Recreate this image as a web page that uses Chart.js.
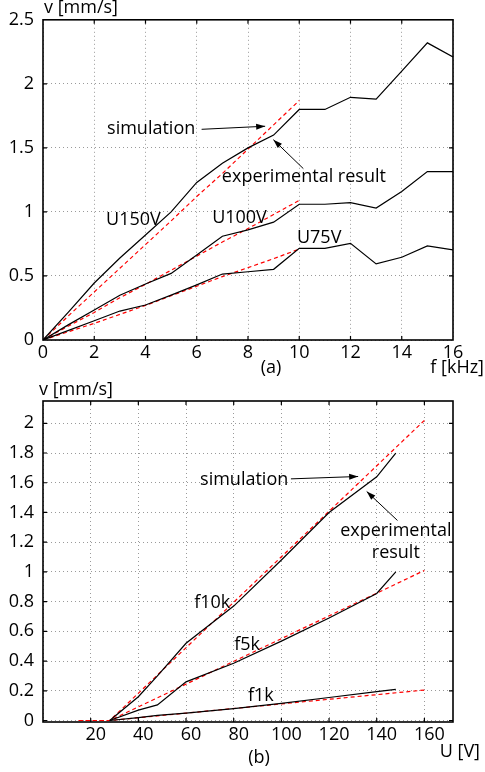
<!DOCTYPE html>
<html><head><meta charset="utf-8">
<script src="https://cdn.jsdelivr.net/npm/chart.js@4"></script>
<style>
html,body{margin:0;padding:0;background:#fff;}
#wrap{position:relative;width:485px;height:772px;}
#c1{position:absolute;left:0;top:0;}
#c2{position:absolute;left:0;top:378px;}
</style></head>
<body><div id="wrap"><canvas id="c1" width="485" height="378"></canvas><canvas id="c2" width="485" height="394"></canvas></div>
<script>
// ---- chart (a): velocity vs frequency ----
const freqExp = [0,1,2,3,4,5,6,7,8,9,10,11,12,13,14,15,16];
const expU150 = [0,0.22,0.445,0.64,0.82,1.0,1.23,1.38,1.50,1.60,1.80,1.80,1.895,1.88,2.10,2.32,2.21];
const expU100 = [0,0.12,0.234,0.35,0.4375,0.52,0.664,0.81,0.86,0.92,1.06,1.06,1.073,1.03,1.16,1.315,1.315];
const expU75  = [0,0.075,0.15,0.226,0.273,0.35,0.43,0.515,0.533,0.552,0.716,0.716,0.755,0.594,0.646,0.734,0.703];
const freqSim = [0,1,2,3,4,5,6,7,8,9,10];
const simU150 = [0,0.19,0.375,0.56,0.745,0.93,1.12,1.30,1.49,1.68,1.87];
const simU100 = [0,0.11,0.215,0.33,0.435,0.545,0.655,0.765,0.87,0.98,1.09];
const simU75  = [0,0.065,0.13,0.2,0.27,0.345,0.42,0.495,0.565,0.635,0.71];

// ---- chart (b): velocity vs voltage ----
const voltExp = [28,40,48,60,80,100,120,140,148];
const expF10k = [0,0.16,0.30,0.52,0.77,1.08,1.40,1.64,1.80];
const expF5k  = [0,0.07,0.105,0.26,0.385,0.534,0.69,0.855,1.0];
const expF1k  = [0,0.02,0.035,0.05,0.08,0.115,0.155,0.195,0.21];
const voltSim = [15,28,160];
const simF10k = [0,0,2.02];
const simF5k  = [0,0,1.01];
const simF1k  = [0,0,0.205];

const FONT = '"Open Sans", "DejaVu Sans", sans-serif';
const FS = 18;

function pts(xs, ys){ return xs.map((x,i)=>({x:x,y:ys[i]})); }
function expDs(xs, ys){ return {data:pts(xs,ys), borderColor:'#000', borderWidth:1.2, pointRadius:0, fill:false, tension:0}; }
function simDs(xs, ys){ return {data:pts(xs,ys), borderColor:'#ff0000', borderWidth:1.2, borderDash:[4,3], pointRadius:0, fill:false, tension:0}; }

function arrow(ctx, x1,y1,x2,y2){
  ctx.save();
  ctx.strokeStyle='#000'; ctx.fillStyle='#000'; ctx.lineWidth=1;
  ctx.beginPath(); ctx.moveTo(x1,y1); ctx.lineTo(x2,y2); ctx.stroke();
  const a=Math.atan2(y2-y1,x2-x1), L=9, W=3;
  ctx.beginPath();
  ctx.moveTo(x2,y2);
  ctx.lineTo(x2-L*Math.cos(a)+W*Math.sin(a), y2-L*Math.sin(a)-W*Math.cos(a));
  ctx.lineTo(x2-L*Math.cos(a)-W*Math.sin(a), y2-L*Math.sin(a)+W*Math.cos(a));
  ctx.closePath(); ctx.fill();
  ctx.restore();
}

function makePlugin(cfg){
  return {
    id:'decor',
    afterDraw(chart){
      const ctx=chart.ctx, a=chart.chartArea, xs=chart.scales.x, ys=chart.scales.y;
      ctx.save();
      ctx.strokeStyle='#000'; ctx.lineWidth=1.6;
      ctx.strokeRect(a.left,a.top,a.right-a.left,a.bottom-a.top);
      ctx.lineWidth=1.2;
      ctx.beginPath();
      xs.ticks.forEach(t=>{const p=xs.getPixelForValue(t.value); if(p<a.left+1||p>a.right-1) return;
        ctx.moveTo(p,a.bottom); ctx.lineTo(p,a.bottom-4); ctx.moveTo(p,a.top); ctx.lineTo(p,a.top+4);});
      ys.ticks.forEach(t=>{const p=ys.getPixelForValue(t.value); if(p<a.top+1||p>a.bottom-1) return;
        ctx.moveTo(a.left,p); ctx.lineTo(a.left+4,p); ctx.moveTo(a.right,p); ctx.lineTo(a.right-4,p);});
      ctx.stroke();
      ctx.fillStyle='#000';
      ctx.font = FS+'px '+FONT;
      ctx.textBaseline='middle';
      cfg.texts.forEach(t=>{
        ctx.textAlign=t.align||'left';
        const x = t.px ? t.x : xs.getPixelForValue(t.x);
        const y = t.px ? t.y : ys.getPixelForValue(t.y);
        ctx.fillText(t.s,x,y);
      });
      cfg.arrows.forEach(r=>{
        arrow(ctx, xs.getPixelForValue(r[0]), ys.getPixelForValue(r[1]), xs.getPixelForValue(r[2]), ys.getPixelForValue(r[3]));
      });
      ctx.restore();
    }
  };
}

function baseOptions(o){
  return {
    responsive:false, animation:false, devicePixelRatio:1,
    layout:{padding:o.padding},
    plugins:{legend:{display:false}, tooltip:{enabled:false}},
    scales:{
      x:{type:'linear', min:o.xmin, max:o.xmax,
         afterFit:(s)=>{s.height=o.xh;},
         grid:{color:'#9a9a9a', lineWidth:1, drawTicks:false},
         border:{display:false, dash:[1,3]},
         ticks:{stepSize:o.xstep, includeBounds:false, padding:o.xpad, labelOffset:o.xoff||0, color:'#000', font:{family:FONT,size:FS}, maxRotation:0, autoSkip:false,
           callback:(v)=> (o.hideX0 && v===0) ? '' : String(v)}},
      y:{type:'linear', min:o.ymin, max:o.ymax,
         afterFit:(s)=>{s.width=o.yw;},
         grid:{color:'#9a9a9a', lineWidth:1, drawTicks:false},
         border:{display:false, dash:[1,3]},
         ticks:{stepSize:o.ystep, includeBounds:false, padding:9, color:'#000', font:{family:FONT,size:FS}, autoSkip:false,
           callback:(v)=> String(Math.round(v*10)/10)}}
    }
  };
}

new Chart(document.getElementById('c1'), {
  type:'line',
  data:{datasets:[
    expDs(freqExp,expU150), expDs(freqExp,expU100), expDs(freqExp,expU75),
    simDs(freqSim,simU150), simDs(freqSim,simU100), simDs(freqSim,simU75)
  ]},
  options: baseOptions({padding:{top:19,right:32,left:0,bottom:0}, xmin:0,xmax:16,xstep:2,xh:38,xpad:2,
    ymin:0,ymax:2.5,ystep:0.5,yw:43}),
  plugins:[makePlugin({
    texts:[
      {s:'v [mm/s]', x:44, y:8, px:true},
      {s:'f [kHz]', x:484, y:368, px:true, align:'right'},
      {s:'(a)', x:271, y:368, px:true, align:'center'},
      {s:'simulation', x:2.5, y:1.65},
      {s:'experimental result', x:6.98, y:1.27},
      {s:'U150V', x:2.46, y:0.935},
      {s:'U100V', x:6.6, y:0.95},
      {s:'U75V', x:9.91, y:0.80}
    ],
    arrows:[[6.19,1.645,8.67,1.669],[10.16,1.338,8.99,1.564]]
  })]
});

new Chart(document.getElementById('c2'), {
  type:'line',
  data:{datasets:[
    expDs(voltExp,expF10k), expDs(voltExp,expF5k), expDs(voltExp,expF1k),
    simDs(voltSim,simF10k), simDs(voltSim,simF5k), simDs(voltSim,simF1k)
  ]},
  options: baseOptions({padding:{top:23,right:32,left:0,bottom:0}, xmin:0,xmax:172,xstep:20,xh:50,xpad:2,xoff:5,hideX0:true,
    ymin:-0.01,ymax:2.15,ystep:0.2,yw:43}),
  plugins:[makePlugin({
    texts:[
      {s:'v [mm/s]', x:39, y:12, px:true},
      {s:'U [V]', x:480, y:374, px:true, align:'right'},
      {s:'(b)', x:259, y:380, px:true, align:'center'},
      {s:'simulation', x:65.9, y:1.62},
      {s:'experimental', x:148, y:1.277, align:'center'},
      {s:'result', x:148, y:1.13, align:'center'},
      {s:'f10k', x:63.4, y:0.794},
      {s:'f5k', x:80.2, y:0.512},
      {s:'f1k', x:86, y:0.163}
    ],
    arrows:[[104.0,1.626,132.2,1.642],[148.7,1.346,135.8,1.541]]
  })]
});
</script>
</body></html>
